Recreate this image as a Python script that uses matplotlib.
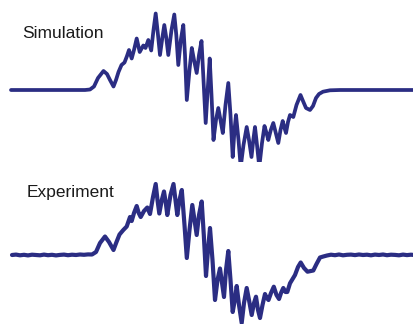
import matplotlib.pyplot as plt

# simulated trace: position (px along the trace) and amplitude (baseline = 0)
sim_t = [11, 85, 90, 94, 98, 103.5, 107, 110, 113.5, 116, 118.5, 121.5, 124.5, 127, 129,
         131.7, 134, 136.7, 139.7, 143.3, 145.5, 148.3, 151.2, 153.5, 155.7, 158, 160,
         162.3, 164.3, 166.3, 168.3, 171.5, 174.3, 176.3, 178.3, 180.8, 183.3, 185, 186.8,
         189.5, 191.8, 194, 196.7, 199, 201.5, 203.5, 205.7, 208, 209.7, 211.5, 213.5,
         216, 218.3, 220.5, 222.8, 225.5, 228.3, 230.5, 232.7, 234.5, 236, 238.5, 240.7,
         243.5, 246.7, 249, 251.5, 253.3, 255, 257, 259.3, 262, 264.5, 266.5, 268.3,
         270.8, 273.3, 275.8, 278.3, 280.5, 282.7, 284.5, 286, 288, 290, 293.3, 296.5,
         300.5, 303, 306, 310, 313, 316, 319, 323, 330, 340, 414]
sim_amp = [0, 0, 0.5, 3.5, 12, 19, 16, 10, 3.5, 10, 18, 25, 27.5, 34, 40,
           31.5, 40, 51.5, 38, 44.5, 42, 50, 39.5, 60, 76.5, 55, 35,
           52, 65, 52, 35, 60, 75.5, 55, 25, 50, 65, 35, -10,
           20, 42, 30, 17, 35, 49, 10, -33, 5, 31.5, -5, -50,
           -30, -18, -30, -43, -15, 7, -25, -67, -40, -25, -50, -77,
           -55, -37, -50, -67, -50, -37, -55, -77, -53, -36, -43, -50,
           -40, -33, -43, -53, -40, -31, -38, -43, -32, -25, -27, -15,
           -5, -11, -18, -20, -16, -8, -4, -1.7, -0.3, 0, 0]

# measured trace
exp_t = [12, 16, 20, 24, 28, 32, 36, 40, 44, 48, 52, 56, 60, 64, 68, 72, 76, 80, 84, 88,
         92, 96, 100, 105, 109, 113.5, 116.5,
         119.5, 123.3, 126.7, 130, 131.7, 134, 136.7, 138.7, 140.7, 144, 147.3, 150,
         153, 155.7, 157.5, 159.3, 161.8, 164, 165.8, 167.3, 170.5, 173.5, 175.5, 177.3,
         179.5, 181.8, 184.5, 186.8, 189.5, 192.3, 194.5, 196.7, 199, 201.7, 203.8, 206,
         208, 210, 212.5, 215, 217.5, 220, 222, 224, 226, 228.3, 230.5, 232.7, 234.8,
         236.7, 239, 241.7, 244, 246.7, 249, 251.7, 254, 256, 258, 260, 262.5, 265,
         266.8, 268.5, 271, 273.8, 276.5, 279, 281, 283.3, 285.5, 287.3, 290, 295, 298,
         300.7, 304, 307.5, 311, 313.3, 316.5, 320, 323.3, 327, 331, 335, 339, 343, 347,
         351, 355, 359, 363, 367, 371, 375, 379, 383, 387, 391, 395, 399, 403, 407, 411, 414]
exp_amp = [0, 0.4, -0.3, 0.2, -0.4, 0.3, 0, -0.3, 0.4, -0.2, 0.2, -0.4, 0.1, 0.4, -0.2, 0.3,
           0, 0.5, 0.2, 0.6, 0.5, 3, 12, 18.5, 13, 5, 13,
           20.5, 25, 28.5, 38, 34, 42, 49, 42, 38, 44, 47.5, 41,
           58, 71, 55, 41.5, 55, 63.5, 52, 40, 60, 71, 55, 40,
           55, 65, 30, -3, 25, 50, 35, 20, 40, 53.5, 20, -21,
           5, 27, -5, -45, -25, -13.5, -28, -42, -15, 4, -25, -57, -45,
           -31, -50, -68, -48, -33, -45, -60, -48, -41.7, -55, -63, -50, -39,
           -43, -45, -38, -31.7, -40, -44, -38, -33, -37, -37, -28.3, -20, -12,
           -7.5, -13, -16.7, -16, -15.5, -9, -2.5, -1.5, -0.5, 0.3, -0.2, 0.5, -0.3, 0.2,
           0.4, -0.1, 0.5, 0, 0.3, -0.3, 0.4, 0, 0.5, -0.2, 0.3, 0.1, -0.3, 0.4, -0.1, 0.3, 0]

LINE = "#2b2d83"

fig = plt.figure(figsize=(4.14, 3.24), dpi=100)
ax_sim = fig.add_axes([0, 0.5, 1, 0.5])
ax_exp = fig.add_axes([0, 0, 1, 0.5])

ax_sim.plot(sim_t, sim_amp, color=LINE, lw=2.7, solid_joinstyle="round", solid_capstyle="round")
ax_exp.plot(exp_t, exp_amp, color=LINE, lw=3.0, solid_joinstyle="round", solid_capstyle="round")

ax_sim.set_ylim(-72, 90)
ax_exp.set_ylim(-69, 93)
for ax in (ax_sim, ax_exp):
    ax.set_xlim(0, 414)
    ax.axis("off")

ax_sim.text(22, 57, "Simulation", fontsize=12.5, family="Liberation Sans",
            ha="left", va="center", color="#1a1a1a")
ax_exp.text(27, 63, "Experiment", fontsize=12.5, family="Liberation Sans",
            ha="left", va="center", color="#1a1a1a")

fig.savefig("out.png", dpi=100)
